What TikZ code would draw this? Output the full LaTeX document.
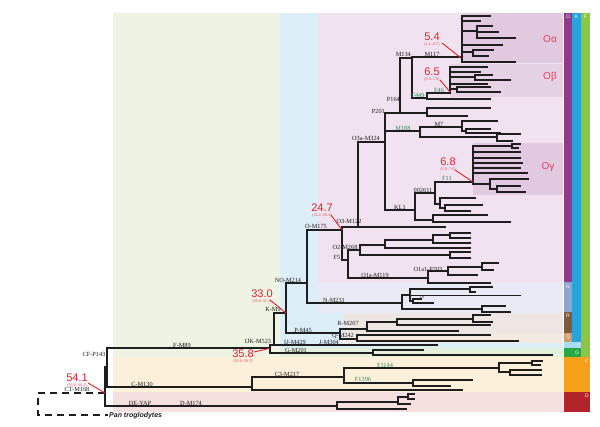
\documentclass[tikz,border=0pt]{standalone}
\usepackage{fontspec}
\setmainfont{Liberation Serif}
\newfontfamily\agefont{Liberation Sans}
\definecolor{bgF}{HTML}{EEF3E4}
\definecolor{bgK}{HTML}{DCEEF7}
\definecolor{bgO}{HTML}{F0E2EF}
\definecolor{bgOsub}{HTML}{E1CADF}
\definecolor{bgN}{HTML}{E8EBF6}
\definecolor{bgR}{HTML}{EDE6E2}
\definecolor{bgQ}{HTML}{F3EAE3}
\definecolor{bgG}{HTML}{E2F0DC}
\definecolor{bgC}{HTML}{FDF0DA}
\definecolor{bgD}{HTML}{F5DFDF}
\definecolor{barO}{HTML}{8E3A8E}
\definecolor{barK}{HTML}{27A4DD}
\definecolor{barF}{HTML}{8DC641}
\definecolor{barN}{HTML}{8FA3D3}
\definecolor{barR}{HTML}{7D5B3B}
\definecolor{barQ}{HTML}{D39B66}
\definecolor{barJ}{HTML}{A9DCF0}
\definecolor{barG}{HTML}{28A745}
\definecolor{barC}{HTML}{F7A11A}
\definecolor{barD}{HTML}{B3242A}
\definecolor{agec}{HTML}{E11F2D}
\definecolor{subc}{HTML}{E0455F}
\definecolor{gfc}{HTML}{2E8B57}
\definecolor{treec}{HTML}{1E1E1E}
\newcommand\tHb[3]{\draw[br] (#1,#3) -- (#2,#3);}
\newcommand\tVb[3]{\draw[br] (#1,#2) -- (#1,#3);}
\begin{document}
\begin{tikzpicture}[x=1pt,y=-1pt,
  br/.style={line width=1.1pt, draw=treec, line cap=rect},
  lab/.style={font=\fontsize{6.3}{6.3}\selectfont, inner sep=0pt, text=treec},
  glab/.style={lab, text=gfc},
  age/.style={font=\agefont\fontsize{11}{11}\selectfont, text=agec, inner sep=0pt},
  rng/.style={font=\agefont\fontsize{3.8}{3.8}\selectfont, text=agec!75, inner sep=0pt},
  ptr/.style={draw=agec, line width=0.9pt},
  sub/.style={font=\agefont\fontsize{10}{10}\selectfont, text=subc, inner sep=0pt},
  bl/.style={font=\agefont\fontsize{5}{5}\selectfont, text=white, inner sep=0pt}]
\useasboundingbox (0,0) rectangle (600,427);
\fill[white] (0,0) rectangle (600,427);
% backgrounds
\fill[bgF] (113,13) rectangle (563,357);
\fill[bgK] (280,13) rectangle (563,348);
\fill[bgO] (318,13) rectangle (563,283);
\fill[bgN] (318,283) rectangle (563,313);
\fill[bgR] (343,313) rectangle (563,334);
\fill[bgQ] (343,334) rectangle (563,343);
\fill[bgG] (280,348) rectangle (563,357);
\fill[bgC] (113,357) rectangle (563,392);
\fill[bgD] (113,392) rectangle (563,412);
\fill[bgOsub] (462,13) rectangle (563,63);
\fill[bgOsub!85] (450,63.6) rectangle (563,97);
\fill[bgOsub] (473,143) rectangle (563,195);
% bars
\fill[barO] (564,13) rectangle (572,282);
\fill[barK] (572,13) rectangle (581,342);
\fill[barF] (581,13) rectangle (590,357);
\fill[barN] (564,282) rectangle (572,312);
\fill[barR] (564,312) rectangle (572,333);
\fill[barQ] (564,333) rectangle (572,342);
\fill[barJ] (564,342) rectangle (581,348);
\fill[barG] (564,348) rectangle (581,357);
\fill[barC] (564,357) rectangle (590,392);
\fill[barD] (564,392) rectangle (590,412);
\node[bl] (lO) at (568,17) {O};
\node[bl] (lK) at (576.5,17) {K};
\node[bl] (lF) at (585.5,17) {F};
\node[bl] (lN) at (568,287) {N};
\node[bl] (lR) at (568,316) {R};
\node[bl] (lQ) at (568,337.5) {Q};
\node[bl] (lJ) at (578,344.8) {\fontsize{3.5}{3.5}\selectfont J};
\node[bl] (lG) at (577,352.5) {G};
\node[bl] (lC) at (587,361) {C};
\node[bl] (lD) at (587,396) {D};
\node[sub] (sa) at (550,39) {Oα};
\node[sub] (sb) at (550,77) {Oβ};
\node[sub] (sg) at (548,167) {Oγ};
% root
\draw[line width=1.1pt, draw=treec, dash pattern=on 7pt off 5pt] (105,393) -- (38,393) -- (38,415) -- (108,415);
\tVb{105}{367}{406}
\tHb{105}{107}{367}
\tVb{107}{348}{387}
% F
\tHb{107}{270}{348}
\tVb{270}{345}{353}
\tHb{270}{274}{345}
\tVb{274}{313}{345}
\tHb{274}{437}{345}
% G
\tHb{270}{373}{353}
\tVb{373}{350}{355}
\tHb{373}{423}{350}
\tHb{373}{552}{355}
% K
\tHb{274}{286}{313}
\tVb{286}{283}{333}
\tHb{286}{307}{283}
\tVb{307}{230}{303}
% N
\tHb{307}{402}{303}
\tVb{402}{295}{309}
\tHb{402}{410}{295}
\tVb{410}{289}{301}
\tHb{410}{470}{289}
\tVb{470}{287}{292}
\tHb{470}{492}{287}
\tHb{470}{475}{292}
\tHb{410}{520}{295.5}
\tHb{410}{413}{301}
\tVb{413}{299}{303}
\tHb{413}{421}{299}
\tHb{413}{433}{303}
\tHb{402}{482}{309}
\tVb{482}{306}{312}
\tHb{482}{505}{306}
\tHb{482}{510}{312}
% P, R, Q
\tHb{286}{340}{333}
\tVb{340}{329}{339}
\tHb{340}{367}{329}
\tVb{367}{322}{331}
\tHb{367}{397}{322}
\tVb{397}{319}{325}
\tHb{397}{473}{319}
\tVb{473}{315}{322}
\tHb{473}{490}{315}
\tHb{473}{492}{322}
\tHb{397}{490}{325}
\tHb{367}{458}{331}
\tHb{340}{357}{339}
\tVb{357}{335}{341}
\tHb{357}{490}{335}
\tHb{357}{518}{341}
% O
\tHb{307}{342}{230}
\tVb{342}{227}{260}
\tHb{342}{358}{227}
\tVb{358}{142}{227}
\tHb{358}{445}{227}
\tHb{358}{385}{142}
\tVb{385}{113}{210}
\tHb{385}{427}{113}
\tVb{400}{58}{113}
\tVb{427}{108}{116}
\tHb{427}{490}{108}
\tHb{427}{467}{116}
% M134
\tHb{400}{412}{58}
\tVb{412}{57}{98}
\tHb{412}{462}{57}
\tVb{462}{16}{62}
\tHb{462}{490}{16}
\tHb{462}{480}{21}
\tHb{462}{477}{31}
\tVb{477}{26}{38}
\tHb{477}{492}{26}
\tHb{477}{498}{32}
\tHb{477}{515}{38}
\tHb{462}{502}{45}
\tHb{462}{473}{52}
\tVb{473}{50}{56}
\tHb{473}{493}{50}
\tHb{473}{488}{56}
\tHb{462}{515}{62}
% F449 / Obeta
\tHb{412}{427}{98}
\tVb{427}{93}{99}
\tHb{427}{490}{99}
\tHb{427}{450}{93}
\tVb{450}{67}{93}
\tHb{450}{487}{67}
\tHb{450}{480}{72}
\tHb{450}{475}{77}
\tVb{475}{75}{80}
\tHb{475}{492}{75}
\tHb{475}{510}{80}
\tHb{450}{487}{84}
\tHb{450}{457}{89}
\tVb{457}{87}{92}
\tHb{457}{490}{87}
\tHb{457}{500}{92}
% M188 / M7
\tHb{385}{420}{131}
\tVb{420}{127}{137}
\tHb{420}{462}{127}
\tVb{462}{121}{131}
\tHb{462}{497}{121}
\tHb{462}{466}{131}
\tVb{466}{129}{133}
\tHb{466}{490}{129}
\tHb{466}{500}{133}
\tHb{420}{497}{137}
\tVb{497}{134}{141}
\tHb{497}{520}{134}
\tHb{497}{512}{141}
% KL1
\tHb{385}{415}{210}
\tVb{415}{193}{220}
\tHb{415}{435}{193}
\tVb{435}{182}{204}
\tHb{435}{473}{182}
\tVb{473}{146}{184}
\tHb{473}{512}{146}
\tVb{512}{144}{148}
\tHb{512}{520}{144}
\tHb{512}{518}{148}
\tHb{473}{520}{152}
\tHb{473}{520}{158}
\tHb{473}{522}{163}
\tHb{473}{520}{168}
\tHb{473}{527}{173}
\tHb{473}{490}{184}
\tVb{490}{179}{189}
\tHb{490}{528}{179}
\tHb{490}{497}{189}
\tVb{497}{186}{192}
\tHb{497}{520}{186}
\tHb{497}{525}{192}
\tHb{435}{440}{204}
\tVb{440}{198}{208}
\tHb{440}{475}{198}
\tHb{440}{445}{208}
\tVb{445}{205}{211}
\tHb{445}{482}{205}
\tHb{445}{470}{211}
\tHb{415}{433}{220}
\tVb{433}{215}{222}
\tHb{433}{487}{215}
\tHb{433}{510}{222}
% O1'2
\tHb{342}{348}{260}
\tVb{348}{250}{278}
\tHb{348}{360}{250}
\tVb{360}{245}{255}
\tHb{360}{385}{245}
\tVb{385}{240}{248}
\tHb{385}{433}{240}
\tVb{433}{235}{243}
\tHb{433}{450}{235}
\tVb{450}{233}{238}
\tHb{450}{470}{233}
\tHb{450}{470}{238}
\tHb{433}{470}{243}
\tHb{385}{470}{248}
\tHb{360}{450}{255}
\tVb{450}{252}{258}
\tHb{450}{470}{252}
\tHb{450}{470}{258}
\tHb{348}{428}{278}
\tVb{428}{271}{283}
\tHb{428}{448}{271}
\tVb{448}{267}{275}
\tHb{448}{482}{267}
\tVb{482}{263}{270}
\tHb{482}{498}{263}
\tHb{482}{493}{270}
\tHb{448}{477}{275}
\tHb{428}{490}{283}
% C
\tHb{107}{252}{387}
\tVb{252}{377}{390}
\tHb{252}{344}{377}
\tVb{344}{368}{383}
\tHb{344}{499}{368}
\tVb{499}{363}{372}
\tHb{499}{532}{363}
\tVb{532}{361}{365}
\tHb{532}{542}{361}
\tHb{532}{540}{365}
\tHb{499}{510}{372}
\tVb{510}{370}{375}
\tHb{510}{541}{370}
\tHb{510}{541}{375}
\tHb{344}{413}{383}
\tVb{413}{380}{386}
\tHb{413}{472}{380}
\tHb{413}{450}{386}
\tHb{252}{462}{390}
% D
\tHb{105}{337}{406}
\tVb{337}{402}{409}
\tHb{337}{398}{402}
\tVb{398}{397}{404}
\tHb{398}{408}{397}
\tVb{408}{394}{399}
\tHb{408}{414}{394}
\tHb{408}{414}{399}
\tHb{398}{410}{404}
\tHb{337}{406}{409}
% labels
\node[lab] (tM117) at (432,54) {M117};
\node[lab,anchor=south east] (tM134) at (411,56.5) {M134};
\node[lab,anchor=east] (tP164) at (400,99) {P164};
\node[lab,anchor=east] (tP201) at (385,111) {P201};
\node[glab] (tM188) at (403,128.5) {M188};
\node[lab] (tM7) at (439,124) {M7};
\node[lab] (tO3a) at (366,138.5) {O3a-M324};
\node[glab] (tF449) at (418,95) {F449};
\node[glab] (tF46) at (439,90) {F46};
\node[glab] (tF11) at (447,178.5) {F11};
\node[lab] (t0026) at (423,190) {002611};
\node[lab] (tKL1) at (400,207) {KL1};
\node[lab] (tO3) at (349,221) {O3-M122};
\node[lab] (tO) at (316,226.5) {O-M175};
\node[lab] (tO2) at (345,247) {O2-M268};
\node[lab] (tF5) at (337,257) {F5};
\node[lab] (tO1a) at (375,275) {O1a-M119};
\node[lab] (tO1a1) at (428,269) {O1a1-P203};
\node[lab] (tNO) at (288,280) {NO-M214};
\node[lab] (tN) at (334,300.5) {N-M231};
\node[lab,font=\fontsize{3.8}{3.8}\selectfont] (tL8) at (422,297.5) {L8};
\node[lab] (tK) at (273,309.5) {K-M9};
\node[lab] (tP) at (303,330.5) {P-M45};
\node[lab] (tR) at (348,323) {R-M207};
\node[lab] (tQ) at (343,335.5) {Q-M242};
\node[lab] (tIJK) at (258,341) {IJK-M523};
\node[lab] (tIJ) at (295,342) {IJ-M429};
\node[lab] (tJ) at (329,342) {J-M304};
\node[lab] (tG) at (296,350.5) {G-M201};
\node[lab] (tF) at (182,345) {F-M89};
\node[lab] (tCF) at (94,354.5) {CF-P143};
\node[lab] (tCT) at (77,389.5) {CT-M168};
\node[lab] (tC) at (142,384.5) {C-M130};
\node[lab] (tC3) at (287,374.5) {C3-M217};
\node[glab] (tF1144) at (385,365.5) {F1144};
\node[glab] (tF1396) at (363,379.5) {F1396};
\node[lab] (tDE) at (140,403.5) {DE-YAP};
\node[lab] (tD) at (191,403.5) {D-M174};
\node[font=\agefont\bfseries\itshape\fontsize{7}{7}\selectfont, inner sep=0pt, anchor=west, text=treec] (tPan) at (109,416) {Pan troglodytes};
% ages
\node[age] (a54) at (432,37) {5.4};
\node[rng] (r54) at (432,44.5) {(4.1–6.7)};
\draw[ptr] (442,43) -- (461,58);
\node[age] (a65) at (432,72) {6.5};
\node[rng] (r65) at (432,79.5) {(5.3–7.9)};
\draw[ptr] (440,80) -- (450,92);
\node[age] (a68) at (448,162) {6.8};
\node[rng] (r68) at (448,169.5) {(5.8–7.8)};
\draw[ptr] (455,170) -- (473,182);
\node[age] (a247) at (322,208) {24.7};
\node[rng] (r247) at (322,215.5) {(21.2–28.3)};
\draw[ptr] (331,215) -- (342,230);
\node[age] (a330) at (262,294) {33.0};
\node[rng] (r330) at (262,301.5) {(28.9–37.2)};
\draw[ptr] (270,300) -- (286,313);
\node[age] (a358) at (243,354) {35.8};
\node[rng] (r358) at (243,361.5) {(30.9–39.3)};
\draw[ptr] (254,352) -- (269,348.5);
\node[age] (a541) at (77,378) {54.1};
\node[rng] (r541) at (77,385.5) {(50.6–58.2)};
\draw[ptr] (88,383) -- (105,393);
\end{tikzpicture}
\end{document}
